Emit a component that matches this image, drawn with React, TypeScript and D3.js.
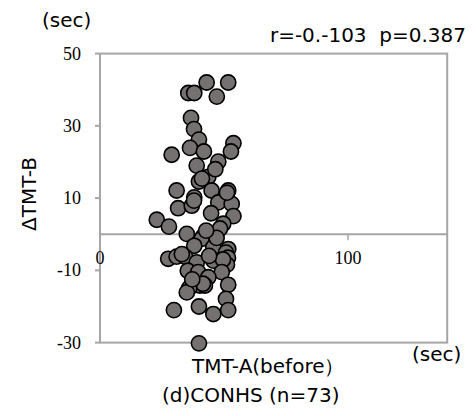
import React from "react";
import * as d3 from "d3";

// TMT-A before (sec) and change in TMT-B (sec), one entry per subject
const tmtA: number[] = [
  43.0, 51.7, 35.6, 38.0, 47.1, 36.7, 37.9, 39.9, 36.3, 41.9,
  28.9, 53.8, 52.8, 47.7, 39.0, 43.7, 39.9, 41.1, 30.9, 45.0,
  51.7, 38.0, 47.7, 53.1, 31.5, 37.0, 37.9, 44.8, 53.8, 49.7,
  48.4, 22.9, 27.8, 35.0, 43.0, 41.5, 41.0, 38.0, 45.7, 51.7,
  50.8, 27.5, 30.9, 34.3, 39.0, 45.7, 50.4, 51.6, 51.2, 49.6,
  35.4, 39.6, 49.1, 43.7, 40.3, 42.3, 41.5, 36.0, 35.0, 51.7,
  50.8, 29.8, 39.9, 45.7, 51.7, 39.9, 33.0, 37.2, 44.0, 47.0,
  51.2, 42.8, 46.5,
];
const deltaTmtB: number[] = [
  42.0, 42.0, 39.1, 39.1, 38.1, 32.2, 29.1, 26.2, 23.9, 22.9,
  22.0, 25.2, 22.9, 20.1, 19.0, 15.9, 14.6, 15.4, 12.1, 12.1,
  12.1, 10.2, 8.8, 8.4, 7.2, 7.9, 9.3, 5.8, 5.0, 2.9,
  1.6, 4.0, 2.1, 0.1, 0.1, -0.7, -1.3, -3.2, -3.6, -4.1,
  -5.1, -6.8, -6.2, -6.2, -7.8, -7.3, -7.9, -6.5, -8.4, -7.0,
  -10.1, -10.5, -10.5, -11.9, -14.2, -14.2, -13.7, -14.9, -16.1, -14.0,
  -17.9, -21.0, -20.0, -22.1, -21.0, -30.2, -5.5, -12.5, -6.0, -1.0,
  11.5, 1.0, 18.0,
];

const yTicks: number[] = [50, 30, 10, -10, -30];
const xTicks: number[] = [0, 50, 100];

const W = 476;
const H = 416;
const plot = { left: 100, right: 447.2, top: 53.6, bottom: 342.6 };

const axisColor = "#a6a6a6";
const sansStyle = { fontFamily: "'DejaVu Sans', Verdana, sans-serif", fontSize: 20 };
const serifStyle = { fontFamily: "'Liberation Serif', 'DejaVu Serif', serif", fontSize: 18 };

export default function App() {
  const x = d3.scaleLinear().domain([0, 140]).range([plot.left, plot.right]);
  const y = d3.scaleLinear().domain([-30, 50]).range([plot.bottom, plot.top]);
  const points = tmtA.map((v, i) => ({ x: v, y: deltaTmtB[i] }));

  return (
    <svg
      width={W}
      height={H}
      style={{ position: "absolute", left: 0, top: 0, background: "#fff" }}
    >
      {/* plot frame */}
      <rect
        x={plot.left}
        y={plot.top}
        width={plot.right - plot.left}
        height={plot.bottom - plot.top}
        fill="none"
        stroke={axisColor}
        strokeWidth={2}
      />
      {/* zero line acting as the x axis */}
      <line
        x1={plot.left}
        x2={plot.right}
        y1={y(0)}
        y2={y(0)}
        stroke={axisColor}
        strokeWidth={2}
      />
      {xTicks.map((t) => (
        <line
          key={"xt" + t}
          x1={x(t)}
          x2={x(t)}
          y1={y(0)}
          y2={y(0) + 6}
          stroke={axisColor}
          strokeWidth={1.5}
        />
      ))}
      {xTicks.map((t) => (
        <text
          key={"xl" + t}
          x={x(t)}
          y={y(0) + 30}
          textAnchor="middle"
          style={serifStyle}
          fill="#000"
        >
          {t}
        </text>
      ))}
      {/* y axis ticks and labels */}
      {yTicks.map((t) => (
        <g key={"y" + t}>
          <line
            x1={plot.left - 5}
            x2={plot.left}
            y1={y(t)}
            y2={y(t)}
            stroke={axisColor}
            strokeWidth={2}
          />
          <text
            x={plot.left - 19}
            y={y(t) + 6}
            textAnchor="end"
            style={serifStyle}
            fill="#000"
          >
            {t}
          </text>
        </g>
      ))}

      {/* markers */}
      {points.map((p, i) => (
        <circle
          key={i}
          cx={x(p.x)}
          cy={y(p.y)}
          r={7.6}
          fill="#767171"
          stroke="#000"
          strokeWidth={1.6}
        />
      ))}

      {/* titles and annotations */}
      <text x={42} y={27} style={sansStyle} fill="#000">
        (sec)
      </text>
      <text
        x={466}
        y={42}
        textAnchor="end"
        style={{ ...sansStyle, whiteSpace: "pre" }}
        fill="#000"
      >
        {"r=-0.-103  p=0.387"}
      </text>
      <text
        transform={`translate(36, 194) rotate(-90)`}
        textAnchor="middle"
        style={sansStyle}
        fill="#000"
      >
        ΔTMT-B
      </text>
      <text x={192} y={373} style={sansStyle} fill="#000">
        TMT-A(before）
      </text>
      <text x={412} y={361} style={sansStyle} fill="#000">
        (sec)
      </text>
      <text x={162} y={402} style={sansStyle} fill="#000">
        (d)CONHS (n=73)
      </text>
    </svg>
  );
}
